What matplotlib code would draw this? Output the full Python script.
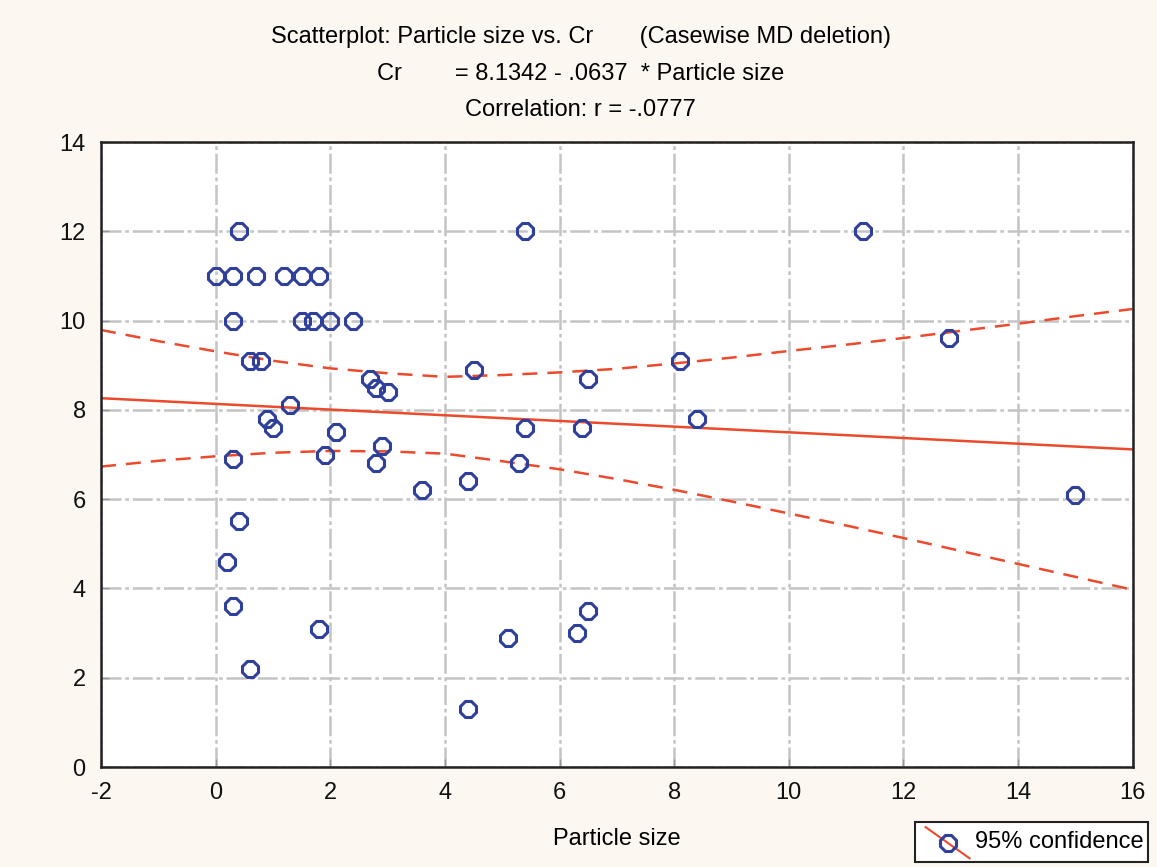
import matplotlib.pyplot as plt
from matplotlib.patches import Rectangle
from matplotlib.lines import Line2D

# scatter data
particle_size = [0.0, 0.3, 0.7, 1.2, 1.5, 1.8, 0.4, 0.3, 1.5, 1.7, 2.0, 2.4,
                 0.6, 0.8, 0.9, 1.0, 1.3, 0.3, 0.4, 0.2, 0.3, 0.6, 1.8, 1.9,
                 2.1, 2.7, 2.8, 3.0, 2.9, 2.8, 3.6, 4.4, 4.5, 4.4, 5.1, 5.3,
                 5.4, 5.4, 6.3, 6.4, 6.5, 6.5, 8.1, 8.4, 11.3, 12.8, 15.0]
cr = [11.0, 11.0, 11.0, 11.0, 11.0, 11.0, 12.0, 10.0, 10.0, 10.0, 10.0, 10.0,
      9.1, 9.1, 7.8, 7.6, 8.1, 6.9, 5.5, 4.6, 3.6, 2.2, 3.1, 7.0,
      7.5, 8.7, 8.5, 8.4, 7.2, 6.8, 6.2, 6.4, 8.9, 1.3, 2.9, 6.8,
      7.6, 12.0, 3.0, 7.6, 8.7, 3.5, 9.1, 7.8, 12.0, 9.6, 6.1]

# fitted line from the title
intercept = 8.1342
slope = -0.0637

# 95% confidence band
band_x = [-2, -1, 0, 1, 2, 3, 4, 5, 6, 7, 8, 9, 10, 11, 12, 13, 14, 15, 16]
band_upper = [9.79, 9.54, 9.31, 9.10, 8.93, 8.82, 8.74, 8.78, 8.84, 8.92,
              9.04, 9.17, 9.32, 9.46, 9.61, 9.77, 9.93, 10.10, 10.26]
band_lower = [6.73, 6.86, 6.96, 7.04, 7.08, 7.07, 7.02, 6.85, 6.67, 6.45,
              6.21, 5.95, 5.68, 5.41, 5.13, 4.84, 4.55, 4.26, 3.97]

plt.rcParams['font.family'] = ['Liberation Sans', 'DejaVu Sans']
plt.rcParams['axes.unicode_minus'] = False

red = '#ec4a2c'
blue = '#2e3f9c'
bg = '#fcf8f1'

fig = plt.figure(figsize=(11.57, 8.67), dpi=100, facecolor=bg)
ax = fig.add_axes([0.0873, 0.1153, 0.8917, 0.7209])
ax.set_facecolor('white')

ax.plot([-2, 16], [intercept + slope * -2, intercept + slope * 16],
        color=red, lw=1.8, zorder=2)
ax.plot(band_x, band_upper, color=red, lw=1.8, ls=(0, (6, 4)), zorder=2)
ax.plot(band_x, band_lower, color=red, lw=1.8, ls=(0, (6, 4)), zorder=2)
ax.plot(particle_size, cr, ls='none', marker='8', markersize=13,
        markerfacecolor='none', markeredgecolor=blue, markeredgewidth=2.2,
        zorder=3)

ax.set_xlim(-2, 16)
ax.set_ylim(0, 14)
ax.set_xticks(range(-2, 17, 2))
ax.set_yticks(range(0, 15, 2))
ax.grid(True, color='#c4c4c4', lw=1.8, ls=(0, (8, 1.5, 1.5, 1.5)), zorder=0)
ax.set_axisbelow(True)
ax.tick_params(direction='in', length=6, width=1, color='#999999',
               labelsize=17, pad=11, labelcolor='#111111')
for s in ax.spines.values():
    s.set_linewidth(1.8)
    s.set_color('#222222')

ax.set_xlabel('Particle size', fontsize=17, labelpad=17)

fig.text(0.502, 0.957, 'Scatterplot: Particle size vs. Cr       (Casewise MD deletion)',
         ha='center', va='center', fontsize=17)
fig.text(0.502, 0.915, 'Cr        = 8.1342 - .0637  * Particle size',
         ha='center', va='center', fontsize=17)
fig.text(0.502, 0.873, 'Correlation: r = -.0777',
         ha='center', va='center', fontsize=17)

# legend box bottom right
fig.add_artist(Rectangle((0.791, 0.006), 0.201, 0.046, transform=fig.transFigure,
                         facecolor='white', edgecolor='#222222', lw=1.5))
fig.add_artist(Line2D([0.800, 0.838], [0.046, 0.010], transform=fig.transFigure,
                      color=red, lw=1.5))
fig.add_artist(Line2D([0.819], [0.028], transform=fig.transFigure, marker='8',
                      markersize=13, markerfacecolor='none', markeredgecolor=blue,
                      markeredgewidth=2.2))
fig.text(0.843, 0.029, '95% confidence', ha='left', va='center', fontsize=17)

fig.savefig('out.png', dpi=100, facecolor=bg)
